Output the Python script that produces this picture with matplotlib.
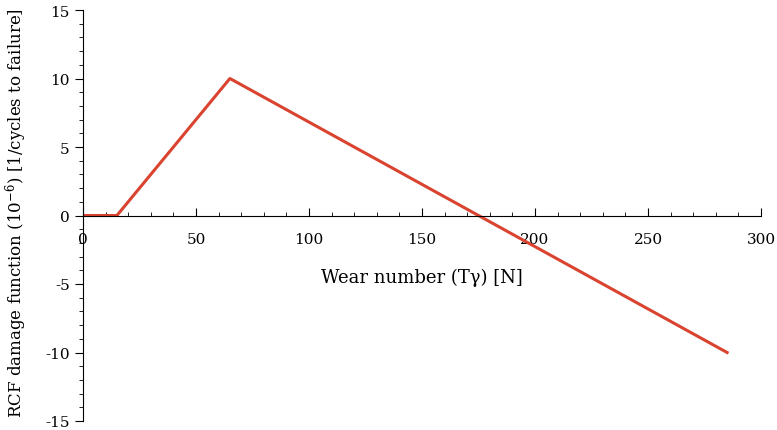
import numpy as np
import matplotlib
matplotlib.use("Agg")
import matplotlib.pyplot as plt
from matplotlib.ticker import MultipleLocator

# piecewise-linear damage function
wear = [0, 15, 65, 285]
damage = [0, 0, 10, -10]

plt.rcParams['font.family'] = ['DejaVu Serif']
plt.rcParams['mathtext.fontset'] = 'dejavuserif'

fig = plt.figure(figsize=(7.77, 4.31), dpi=100)
ax = fig.add_axes([83/777, 9/431, 678/777, 411/431])

ax.plot(wear, damage, color="#d9432f", lw=2.2)

ax.set_xlim(0, 300)
ax.set_ylim(-15, 15)
ax.spines['left'].set_position(('data', 0))
ax.spines['bottom'].set_position(('data', 0))
ax.spines['top'].set_visible(False)
ax.spines['right'].set_visible(False)

ax.xaxis.set_major_locator(MultipleLocator(50))
ax.xaxis.set_minor_locator(MultipleLocator(10))
ax.yaxis.set_major_locator(MultipleLocator(5))
ax.yaxis.set_minor_locator(MultipleLocator(1))
ax.tick_params(axis='x', which='major', direction='in', length=6, pad=12, labelsize=11)
ax.tick_params(axis='x', which='minor', direction='in', length=3)
ax.tick_params(axis='y', which='major', direction='out', length=6, labelsize=11)
ax.tick_params(axis='y', which='minor', direction='out', length=3)
ax.set_yticks([-15, -10, -5, 0, 5, 10, 15])
ax.set_yticklabels(["-15", "-10", "-5", "0", "5", "10", "15"])

ax.text(150, -4.5, "Wear number (T\u03b3) [N]", ha='center', va='center', fontsize=13)
fig.text(16/777, 0.505, "RCF damage function (10$^{-6}$) [1/cycles to failure]",
         rotation=90, ha='center', va='center', fontsize=12)

fig.savefig("out.png", dpi=100)
